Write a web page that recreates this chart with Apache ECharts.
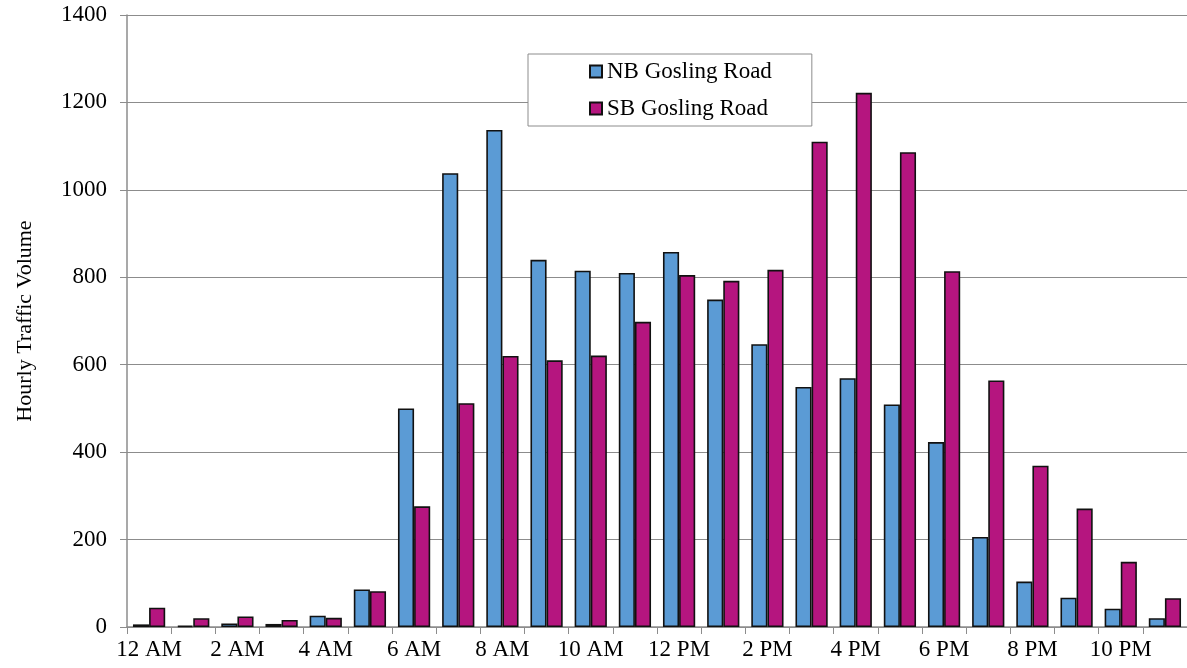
<!DOCTYPE html>
<html>
<head>
<meta charset="utf-8">
<script src="https://cdn.jsdelivr.net/npm/echarts@6/dist/echarts.min.js"></script>
<style>html,body{margin:0;padding:0;background:#fff}#c{width:1187px;height:668px}</style>
</head>
<body>
<div id="c"></div>
<script>
var hours = ['12 AM','1 AM','2 AM','3 AM','4 AM','5 AM','6 AM','7 AM','8 AM','9 AM','10 AM','11 AM',
             '12 PM','1 PM','2 PM','3 PM','4 PM','5 PM','6 PM','7 PM','8 PM','9 PM','10 PM','11 PM'];
var nbGosling = [6, 3, 8, 7, 26, 86, 500, 1038, 1137, 840, 815, 810, 858, 749, 647, 549, 569, 509, 423, 206, 104, 67, 42, 20];
var sbGosling = [44, 20, 24, 16, 21, 82, 276, 512, 620, 610, 621, 698, 805, 792, 817, 1110, 1222, 1086, 814, 564, 369, 271, 149, 66];
var seriesNames = ['NB Gosling Road', 'SB Gosling Road'];

var font = '"Liberation Serif", "Times New Roman", serif';
var chart = echarts.init(document.getElementById('c'), null, {renderer: 'canvas'});
chart.setOption({
  animation: false,
  backgroundColor: '#fff',
  textStyle: {fontFamily: font, color: '#000'},
  grid: {left: 127, right: 0, top: 15, bottom: 41, containLabel: false},
  legend: {
    orient: 'vertical',
    left: 528, top: 54,
    padding: [6, 40, 6, 61],
    itemGap: 14,
    itemWidth: 12, itemHeight: 12,
    icon: 'rect',
    backgroundColor: '#fff',
    borderColor: '#8c8c8c', borderWidth: 1,
    textStyle: {fontFamily: font, fontSize: 23, color: '#000'},
    data: seriesNames
  },
  xAxis: {
    type: 'category',
    data: hours,
    boundaryGap: true,
    axisLine: {lineStyle: {color: '#8c8c8c', width: 1.5}},
    axisTick: {show: true, interval: 0, length: 7, lineStyle: {color: '#8c8c8c'}},
    axisLabel: {interval: 1, margin: 11, fontFamily: font, fontSize: 23, color: '#000'}
  },
  yAxis: {
    type: 'value',
    min: 0, max: 1400, interval: 200,
    name: 'Hourly Traffic Volume',
    nameLocation: 'middle',
    nameGap: 91,
    nameRotate: 90,
    nameTextStyle: {fontFamily: font, fontSize: 22, color: '#000'},
    axisLine: {show: true, lineStyle: {color: '#8c8c8c', width: 1.5}},
    axisTick: {show: true, length: 7, lineStyle: {color: '#8c8c8c'}},
    axisLabel: {margin: 20, fontFamily: font, fontSize: 23, color: '#000',
                formatter: function (v) { return String(v); }},
    splitLine: {show: true, lineStyle: {color: '#8c8c8c', width: 1}}
  },
  series: [
    {
      name: seriesNames[0], type: 'bar', data: nbGosling,
      barGap: '0%', barCategoryGap: '27%',
      itemStyle: {color: '#5B9BD5', borderColor: '#111', borderWidth: 1.6}
    },
    {
      name: seriesNames[1], type: 'bar', data: sbGosling,
      barGap: '0%', barCategoryGap: '27%',
      itemStyle: {color: '#B5157F', borderColor: '#111', borderWidth: 1.6}
    }
  ]
});
</script>
</body>
</html>
